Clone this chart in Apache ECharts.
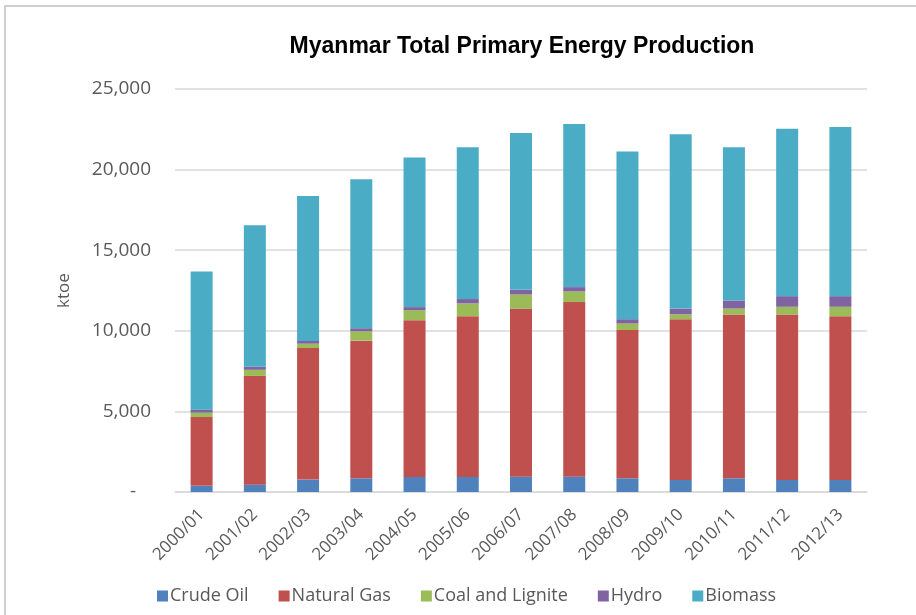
<!DOCTYPE html>
<html>
<head>
<meta charset="utf-8">
<script src="https://cdn.jsdelivr.net/npm/echarts@6/dist/echarts.min.js"></script>
<style>
  html, body { margin: 0; padding: 0; background: #fff; }
  #frame { position: absolute; left: 4px; top: 5px; width: 912px; height: 610px;
           border-top: 2px solid #cfcfcf; border-left: 2px solid #cfcfcf; box-sizing: border-box; }
  #chart { position: absolute; left: 0; top: 0; width: 916px; height: 615px; }
</style>
</head>
<body>
<div id="frame"></div>
<div id="chart"></div>
<script>
// Fiscal years on the x axis
const years = ["2000/01", "2001/02", "2002/03", "2003/04", "2004/05", "2005/06", "2006/07",
               "2007/08", "2008/09", "2009/10", "2010/11", "2011/12", "2012/13"];

// Production by source, ktoe
const crudeOil   = [380, 455, 770, 850, 935, 935, 950, 950, 850, 750, 850, 750, 750];
const naturalGas = [4270, 6745, 8160, 8540, 9725, 9975, 10430, 10830, 9200, 9970, 10160, 10260, 10160];
const coal       = [270, 380, 270, 580, 620, 790, 870, 660, 400, 310, 370, 480, 580];
const hydro      = [190, 190, 170, 190, 190, 270, 290, 270, 270, 350, 500, 660, 660];
const biomass    = [8570, 8780, 8990, 9240, 9280, 9420, 9730, 10120, 10410, 10810, 9510, 10390, 10490];

const seriesNames = ["Crude Oil", "Natural Gas", "Coal and Lignite", "Hydro", "Biomass"];
const seriesData = [crudeOil, naturalGas, coal, hydro, biomass];
const colors = ["#4F81BD", "#C0504D", "#9BBB59", "#8064A2", "#4BACC6"];

const chart = echarts.init(document.getElementById("chart"));

const textColor = "#595959";
const font = "'Open Sans', sans-serif";

chart.setOption({
    animation: false,
    color: colors,
    title: {
        text: "Myanmar Total Primary Energy Production",
        left: 517,
        textAlign: "center",
        top: 30,
        textStyle: { fontFamily: "'Liberation Sans', Arial, sans-serif", fontSize: 23, fontWeight: "bold", color: "#000" }
    },
    legend: {
        data: seriesNames,
        bottom: 5,
        left: 152,
        itemWidth: 11,
        itemHeight: 11,
        itemGap: 30,
        icon: "rect",
        textStyle: { fontFamily: font, fontSize: 18, color: textColor, padding: [0, 0, 0, -3] }
    },
    grid: { left: 175, right: 49, top: 89, bottom: 123 },
    xAxis: {
        type: "category",
        data: years,
        axisLine: { lineStyle: { color: "#d9d9d9", width: 1.5 } },
        axisTick: { show: false },
        axisLabel: { rotate: 45, margin: 20, fontFamily: font, fontSize: 17, color: textColor, interval: 0 }
    },
    yAxis: {
        type: "value",
        name: "ktoe",
        nameLocation: "middle",
        nameGap: 102,
        nameRotate: 90,
        nameTextStyle: { fontFamily: font, fontSize: 17, color: textColor },
        min: 0,
        max: 25000,
        interval: 5000,
        axisLine: { show: false },
        axisTick: { show: false },
        splitLine: { lineStyle: { color: "#d9d9d9", width: 1.5 } },
        axisLabel: {
            margin: 24,
            fontFamily: font,
            fontSize: 19,
            color: textColor,
            formatter: v => v === 0 ? "-   " : v.toLocaleString("en-US")
        }
    },
    series: seriesNames.map((name, i) => ({
        name: name,
        type: "bar",
        stack: "total",
        barWidth: 22,
        data: seriesData[i]
    }))
});
</script>
</body>
</html>
